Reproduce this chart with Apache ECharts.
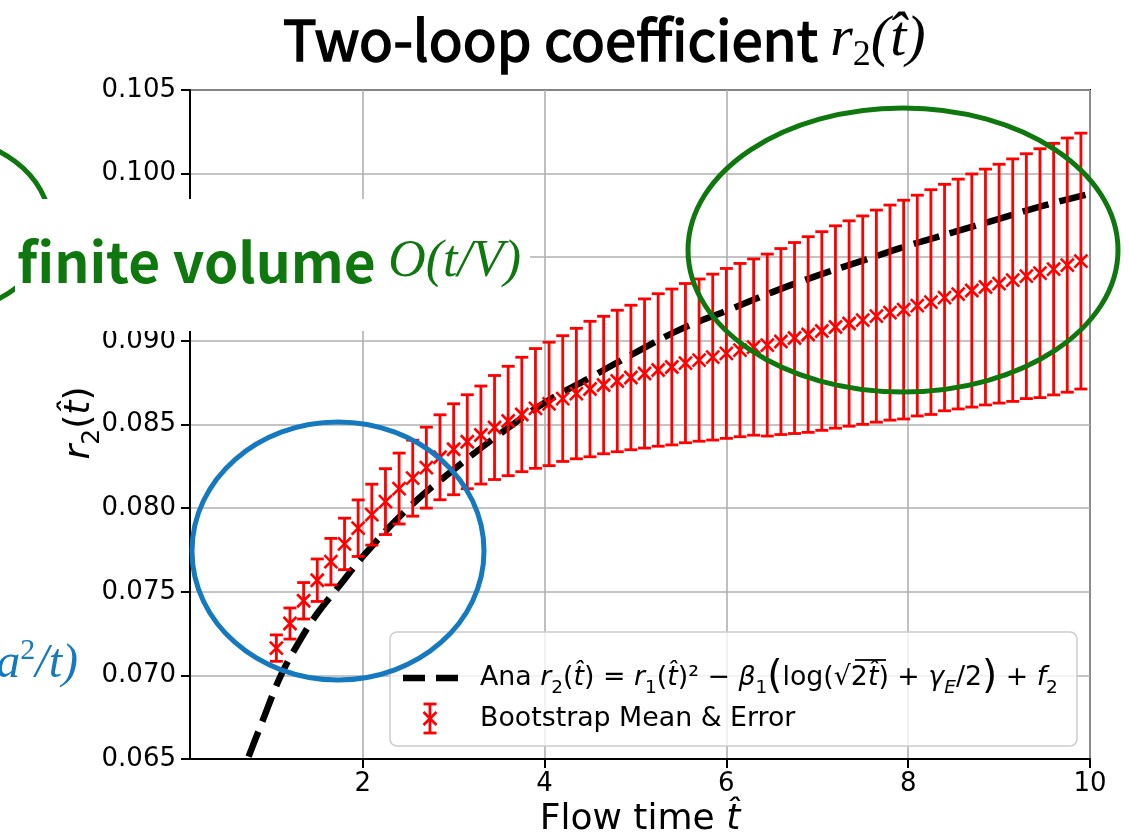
<!DOCTYPE html>
<html><head><meta charset="utf-8">
<script src="https://cdn.jsdelivr.net/npm/echarts@6.0.0/dist/echarts.min.js"></script>
<style>html,body{margin:0;padding:0;background:#fff}#c{width:1129px;height:836px}</style>
</head><body><div id="c"></div>
<script>
// ---- data ----
const xTicks = [2, 4, 6, 8, 10];
const tHat = [1.05,1.20,1.35,1.50,1.65,1.80,1.95,2.10,2.25,2.40,2.55,2.70,2.85,3.00,3.15,3.30,3.45,3.60,3.75,3.90,
  4.05,4.20,4.35,4.50,4.65,4.80,4.95,5.10,5.25,5.40,5.55,5.70,5.85,6.00,6.15,6.30,6.45,6.60,6.75,6.90,
  7.05,7.20,7.35,7.50,7.65,7.80,7.95,8.10,8.25,8.40,8.55,8.70,8.85,9.00,9.15,9.30,9.45,9.60,9.75,9.90];
const bootMean = [0.07163,0.07310,0.07446,0.07569,0.07680,0.07786,0.07880,0.07961,0.08039,0.08117,
  0.08179,0.08242,0.08304,0.08352,0.08397,0.08437,0.08482,0.08521,0.08560,0.08596,
  0.08623,0.08655,0.08685,0.08712,0.08736,0.08760,0.08781,0.08805,0.08826,0.08844,
  0.08867,0.08885,0.08903,0.08925,0.08945,0.08963,0.08975,0.08996,0.09017,0.09038,
  0.09059,0.09083,0.09104,0.09124,0.09148,0.09169,0.09187,0.09211,0.09232,0.09259,
  0.09280,0.09301,0.09322,0.09342,0.09363,0.09387,0.09405,0.09429,0.09453,0.09477];
const bootErr = [0.00079,0.00093,0.00109,0.00127,0.00139,0.00154,0.00169,0.00182,0.00197,0.00212,
  0.00227,0.00242,0.00254,0.00272,0.00281,0.00293,0.00311,0.00327,0.00342,0.00358,
  0.00369,0.00376,0.00390,0.00405,0.00411,0.00423,0.00432,0.00446,0.00456,0.00466,
  0.00476,0.00485,0.00496,0.00508,0.00518,0.00527,0.00544,0.00556,0.00571,0.00585,
  0.00594,0.00605,0.00614,0.00623,0.00634,0.00643,0.00654,0.00660,0.00672,0.00677,
  0.00687,0.00697,0.00705,0.00714,0.00725,0.00732,0.00744,0.00752,0.00760,0.00765];
const anaT   = [0.6,0.7,0.9,1.1,1.3,1.5,1.75,2.0,2.5,3.0,3.5,4.0,4.5,5.0,5.5,6.0,6.5,7.0,7.5,8.0,8.5,9.0,9.5,10.0];
const anaVal = [0.0630,0.0645,0.0673,0.0700,0.0720,0.0737,0.0754,0.0771,0.0800,0.0823,0.0844,0.0863,0.0878,0.0893,0.0907,0.0918,0.0929,0.0939,0.0948,0.0957,0.0965,0.0973,0.0981,0.0988];

const RED = '#ff0000', GREEN = '#0e780e', BLUE = '#1479bf';
const chart = echarts.init(document.getElementById('c'), null, {renderer: 'canvas'});

function errItem(params, api) {
  const x = api.value(0), m = api.value(1), e = api.value(2);
  const t = api.coord([x, m + e]), b = api.coord([x, m - e]), c = api.coord([x, m]);
  const cw = 6.5, ms = 6.5;
  const st = {stroke: RED, lineWidth: 2.8};
  return {type: 'group', children: [
    {type: 'line', shape: {x1: t[0], y1: t[1], x2: b[0], y2: b[1]}, style: st},
    {type: 'line', shape: {x1: t[0] - cw, y1: t[1], x2: t[0] + cw, y2: t[1]}, style: st},
    {type: 'line', shape: {x1: b[0] - cw, y1: b[1], x2: b[0] + cw, y2: b[1]}, style: st},
    {type: 'line', shape: {x1: c[0] - ms, y1: c[1] - ms, x2: c[0] + ms, y2: c[1] + ms}, style: {stroke: RED, lineWidth: 2.6}},
    {type: 'line', shape: {x1: c[0] - ms, y1: c[1] + ms, x2: c[0] + ms, y2: c[1] - ms}, style: {stroke: RED, lineWidth: 2.6}}
  ]};
}

const tickFont = {fontFamily: 'DejaVu Sans', fontSize: 26, color: '#000'};
const LF = 26.8;
const legN = {fontFamily: 'DejaVu Sans', fontSize: LF, fill: '#000', lineHeight: 40};
const legI = Object.assign({}, legN, {fontStyle: 'italic'});
const legS = {fontFamily: 'DejaVu Sans', fontSize: 18.5, fill: '#000', verticalAlign: 'bottom'};
const legSI = Object.assign({}, legS, {fontStyle: 'italic'});

const option = {
  animation: false,
  grid: {left: 190, right: 39, top: 90, bottom: 77, show: true, borderColor: '#000', borderWidth: 2},
  xAxis: {
    type: 'value', min: 0.1, max: 10,
    axisLine: {show: true, onZero: false, lineStyle: {color: '#000', width: 2}},
    axisTick: {show: true, length: 9, lineStyle: {color: '#000', width: 2}, customValues: xTicks},
    axisLabel: Object.assign({customValues: xTicks, margin: 12}, tickFont),
    splitLine: {show: true, lineStyle: {color: '#b0b0b0', width: 1.6}}
  },
  yAxis: {
    type: 'value', min: 0.065, max: 0.105, interval: 0.005,
    axisLine: {show: true, onZero: false, lineStyle: {color: '#000', width: 2}},
    axisTick: {show: true, length: 9, lineStyle: {color: '#000', width: 2}},
    axisLabel: Object.assign({margin: 14, formatter: v => v.toFixed(3)}, tickFont),
    splitLine: {show: true, lineStyle: {color: '#b0b0b0', width: 1.6}}
  },
  series: [
    {type: 'line', data: anaT.map((t, i) => [t, anaVal[i]]), smooth: 0.4, showSymbol: false, clip: true,
     lineStyle: {color: '#000', width: 6.5, type: [27, 11]}, z: 3},
    {type: 'custom', renderItem: errItem, data: tHat.map((t, i) => [t, bootMean[i], bootErr[i]]), z: 4, clip: true}
  ],
  graphic: [
    // title
    {type: 'text', x: 283, y: 40, z: 100, style: {
      text: '{a|Two-loop coefficient }{m|r}{s|2}{m|(t\u0302)}', verticalAlign: 'middle',
      rich: {
        a: {fontFamily: 'Noto Sans CJK JP', fontSize: 56, fill: '#000', stroke: '#000', lineWidth: 1.6, lineHeight: 68},
        m: {fontFamily: 'Liberation Serif', fontStyle: 'italic', fontSize: 58, fill: '#000', lineHeight: 68},
        s: {fontFamily: 'Liberation Serif', fontSize: 36, fill: '#000', verticalAlign: 'bottom'}
      }}},
    // axis names
    {type: 'text', x: 640, y: 820, z: 100, style: {
      text: '{n|Flow time }{i|t\u0302}', align: 'center', verticalAlign: 'middle',
      rich: {n: {fontFamily: 'DejaVu Sans', fontSize: 36, fill: '#000'}, i: {fontFamily: 'DejaVu Sans', fontSize: 36, fontStyle: 'italic', fill: '#000'}}}},
    {type: 'text', x: 80, y: 423, rotation: Math.PI / 2, z: 100, style: {
      text: '{i|r}{s|2}{n|(}{i|t\u0302}{n|)}', align: 'center', verticalAlign: 'middle',
      rich: {n: {fontFamily: 'DejaVu Sans', fontSize: 36, fill: '#000', lineHeight: 50},
             i: {fontFamily: 'DejaVu Sans', fontSize: 36, fontStyle: 'italic', fill: '#000', lineHeight: 50},
             s: {fontFamily: 'DejaVu Sans', fontSize: 25, fill: '#000', verticalAlign: 'bottom'}}}},
    // legend
    {type: 'rect', z: 100, shape: {x: 390, y: 632, width: 687, height: 114, r: 7},
     style: {fill: 'rgba(255,255,255,0.8)', stroke: '#cccccc', lineWidth: 1.5}},
    {type: 'line', z: 101, shape: {x1: 403, y1: 678, x2: 458, y2: 678}, style: {stroke: '#000', lineWidth: 6.5, lineDash: [22, 11]}},
    {type: 'group', z: 101, children: [
      {type: 'line', z: 101, shape: {x1: 430, y1: 704, x2: 430, y2: 733}, style: {stroke: RED, lineWidth: 2.8}},
      {type: 'line', z: 101, shape: {x1: 423.5, y1: 704, x2: 436.5, y2: 704}, style: {stroke: RED, lineWidth: 2.8}},
      {type: 'line', z: 101, shape: {x1: 423.5, y1: 733, x2: 436.5, y2: 733}, style: {stroke: RED, lineWidth: 2.8}},
      {type: 'line', z: 101, shape: {x1: 423.5, y1: 712, x2: 436.5, y2: 725}, style: {stroke: RED, lineWidth: 2.6}},
      {type: 'line', z: 101, shape: {x1: 423.5, y1: 725, x2: 436.5, y2: 712}, style: {stroke: RED, lineWidth: 2.6}}
    ]},
    {type: 'text', x: 480, y: 678, z: 101, style: {
      text: '{n|Ana }{i|r}{s|2}{n|(}{i|t\u0302}{n|) = }{i|r}{s|1}{n|(}{i|t\u0302}{n|)\u00b2 \u2212 }{i|\u03b2}{s|1}{b|(}{n|log(\u221a2}{i|t\u0302}{n|) + }{i|\u03b3}{si|E}{n|/2}{b|)}{n| + }{i|f}{s|2}',
      verticalAlign: 'middle',
      rich: {n: legN, i: legI, s: legS, si: legSI,
        b: {fontFamily: 'DejaVu Sans', fontSize: 39, fill: '#000', lineHeight: 40}}}},
    {type: 'line', z: 101, shape: {x1: 855, y1: 660, x2: 886, y2: 660}, style: {stroke: '#000', lineWidth: 1.8}},
    {type: 'text', x: 480, y: 719, z: 101, style: {text: 'Bootstrap Mean & Error', verticalAlign: 'middle',
      fontFamily: 'DejaVu Sans', fontSize: LF, fill: '#000'}},
    // annotations
    {type: 'ellipse', z: 110, shape: {cx: -70, cy: 225, rx: 120, ry: 90}, style: {fill: 'none', stroke: GREEN, lineWidth: 5}},
    {type: 'rect', z: 111, shape: {x: 15, y: 199, width: 515, height: 132}, style: {fill: '#ffffff'}},
    {type: 'text', x: 17, y: 262, z: 112, style: {
      text: '{a|finite volume }{m|O(t/V)}', verticalAlign: 'middle',
      rich: {a: {fontFamily: 'Noto Sans CJK JP', fontWeight: 'bold', fontSize: 55, fill: GREEN},
             m: {fontFamily: 'Liberation Serif', fontStyle: 'italic', fontSize: 52, fill: GREEN}}}},
    {type: 'ellipse', z: 112, shape: {cx: 903, cy: 250, rx: 215, ry: 142}, style: {fill: 'none', stroke: GREEN, lineWidth: 5}},
    {type: 'ellipse', z: 112, shape: {cx: 338, cy: 551, rx: 146, ry: 129}, style: {fill: 'none', stroke: BLUE, lineWidth: 5}},
    {type: 'text', x: 78, y: 664, z: 112, style: {
      text: '{m|a}{s|2}{m|/t)}', align: 'right', verticalAlign: 'middle',
      rich: {m: {fontFamily: 'Liberation Serif', fontStyle: 'italic', fontSize: 48, fill: BLUE, lineHeight: 56},
             s: {fontFamily: 'Liberation Serif', fontSize: 30, fill: BLUE, verticalAlign: 'top'}}}}
  ]
};
chart.setOption(option);
</script></body></html>
